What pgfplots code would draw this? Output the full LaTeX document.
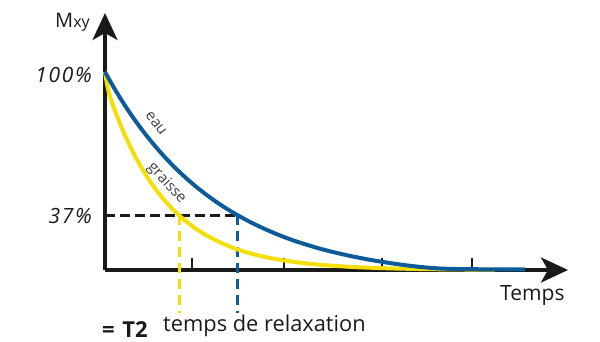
\documentclass[border=0pt]{standalone}
\usepackage{fontspec}
\setmainfont{Open Sans}
\usepackage{pgfplots}
\pgfplotsset{compat=1.18}
\usetikzlibrary{arrows.meta}
\definecolor{eaublue}{HTML}{0D5C99}
\definecolor{graisseyel}{HTML}{F5DF0A}
\definecolor{axblack}{HTML}{1A1A1A}
\begin{document}
\begin{tikzpicture}
\path[use as bounding box] (0pt,0pt) rectangle (600pt,341pt);
\begin{axis}[
  at={(105pt,71pt)}, anchor=origin,
  scale only axis, width=463pt, height=257pt,
  xmin=0, xmax=463, ymin=0, ymax=257,
  axis lines=left,
  axis line style={axblack, line width=3.5pt, -{Stealth[length=27pt,width=25pt,inset=7pt]}},
  xtick={87,179,277,367}, xticklabels={},
  ytick=\empty,
  major tick length=12pt, tick align=inside,
  tick style={axblack, line width=2.5pt},
  clip=false,
]
% 37% dashed line and T2 markers
\addplot[axblack, line width=3pt, dash pattern=on 10pt off 5pt] coordinates {(0,55) (132,55)};
\addplot[graisseyel, line width=3pt, dash pattern=on 10pt off 6pt] coordinates {(74,55) (74,-43)};
\addplot[eaublue, line width=3pt, dash pattern=on 10pt off 6pt] coordinates {(132,55) (132,-43)};
% graisse
\addplot[graisseyel, line width=4pt, line join=round, smooth, tension=0.4] coordinates {
(0,198) (2,186) (4,177) (8,164.5) (12,153.9) (16,144.0) (20,134.7) (25,123.9) (30,114.0) (35,104.9)
(40,96.5) (45,88.8) (50,81.7) (55,75.2) (60,69.2) (65,63.6) (70,58.5) (75,53.9) (80,49.6) (90,41.9)
(100,35.5) (110,30.1) (120,25.4) (130,21.5) (140,18.2) (150,15.4) (165,12.0) (180,9.4) (195,7.3)
(210,5.7) (230,4.1) (250,2.9) (270,2.1) (290,1.5) (320,0.9) (360,0.5) (390,0.3)};
% eau
\addplot[eaublue, line width=4pt, line join=round, smooth, tension=0.4] coordinates {
(0,198) (10,180.5) (20,164.4) (30,149.7) (40,136.3) (50,124.0) (60,112.7) (70,102.3) (80,92.9)
(90,84.2) (100,76.3) (110,69.0) (120,62.3) (130,56.3) (140,50.7) (150,45.6) (160,40.9) (170,36.6)
(180,32.6) (190,29.0) (200,25.8) (215,21.3) (230,17.5) (245,14.1) (260,11.1) (275,8.5) (290,6.2)
(305,4.2) (320,2.6) (335,1.5) (350,1.0) (380,0.7) (420,0.6)};
% labels
\node[anchor=base west, inner sep=0pt, font=\fontsize{20}{22}\selectfont, text=axblack] at (axis cs:-50,243) {M{\fontsize{16}{18}\selectfont xy}};
\node[anchor=base east, inner sep=0pt, font=\fontsize{21}{24}\selectfont\itshape\addfontfeature{LetterSpace=8}, text=axblack] at (axis cs:-13,188) {100\%};
\node[anchor=base east, inner sep=0pt, font=\fontsize{21}{24}\selectfont\itshape\addfontfeature{LetterSpace=8}, text=axblack] at (axis cs:-13,47) {37\%};
\node[anchor=base west, inner sep=0pt, font=\fontsize{21}{24}\selectfont, text=axblack] at (axis cs:395,-30) {Temps};
\node[anchor=base west, inner sep=0pt, font=\fontsize{21.8}{24}\selectfont, text=axblack] at (axis cs:58,-61) {temps de relaxation};
\node[anchor=base west, inner sep=0pt, font=\fontsize{22}{24}\selectfont\bfseries, text=axblack] at (axis cs:-3,-67) {=\hspace{0.35em}T2};
\node[anchor=mid, inner sep=0pt, rotate=-52, font=\fontsize{15}{18}\selectfont, text=black!75] at (axis cs:50,146) {eau};
\node[anchor=mid, inner sep=0pt, rotate=-47, font=\fontsize{15}{18}\selectfont, text=black!75] at (axis cs:61,86) {graisse};
\end{axis}
\end{tikzpicture}
\end{document}
